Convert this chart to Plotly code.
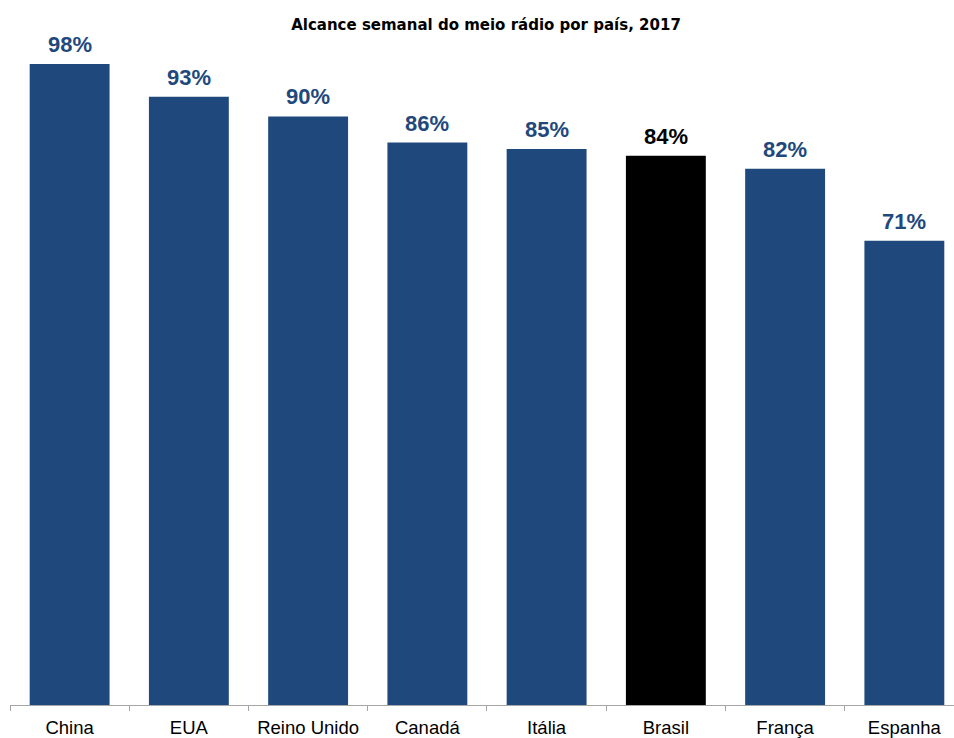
import plotly.graph_objects as go

# Weekly radio reach by country, 2017 (%)
paises = ["China", "EUA", "Reino Unido", "Canadá", "Itália", "Brasil", "França", "Espanha"]
alcance = [98, 93, 90, 86, 85, 84, 82, 71]
destaque = "Brasil"

AZUL = "#1F497D"
PRETO = "#000000"
FONTE = "Liberation Sans, Arial, sans-serif"

cores = [PRETO if p == destaque else AZUL for p in paises]
rotulos = [f"{v}%" for v in alcance]

fig = go.Figure()
fig.add_trace(go.Bar(
    x=paises,
    y=alcance,
    marker=dict(color=cores, line=dict(width=0)),
    hoverinfo="skip",
))

# Value labels above each bar
for p, v, r, c in zip(paises, alcance, rotulos, cores):
    fig.add_annotation(
        x=p, y=v, text=f"<b>{r}</b>",
        showarrow=False, xanchor="center", yanchor="bottom",
        yshift=5,
        font=dict(family=FONTE, size=22, color=c),
    )

fig.update_layout(
    width=954,
    height=738,
    margin=dict(l=10, r=0, t=51, b=33, pad=0),
    paper_bgcolor="white",
    plot_bgcolor="white",
    bargap=0.33,
    showlegend=False,
    title=dict(
        text="<b>Alcance semanal do meio rádio por país, 2017</b>",
        x=486 / 954,
        xanchor="center",
        y=1 - 25 / 738,
        yanchor="middle",
        font=dict(family="DejaVu Sans, sans-serif", size=15, color="#000000"),
    ),
    font=dict(family=FONTE),
)

fig.update_xaxes(
    type="category",
    range=[-0.5, 7.5 - 10 / 119.5],
    showline=True,
    linecolor="#A6A6A6",
    linewidth=1,
    ticks="outside",
    ticklen=5,
    tickcolor="#A6A6A6",
    tickson="boundaries",
    ticklabelstandoff=6,
    tickfont=dict(family=FONTE, size=18.5, color="#000000"),
    showgrid=False,
    zeroline=False,
    fixedrange=True,
)

fig.update_yaxes(
    range=[0, 100],
    visible=False,
    showgrid=False,
    zeroline=False,
    fixedrange=True,
)

fig.write_html("out.html")
